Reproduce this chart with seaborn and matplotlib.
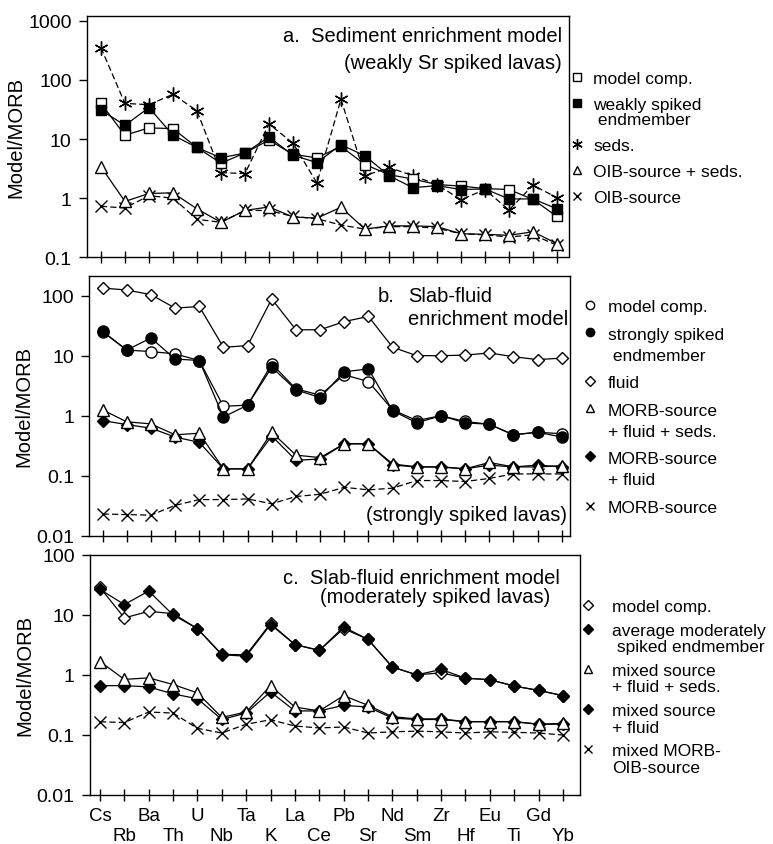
import numpy as np
import seaborn as sns
import matplotlib.pyplot as plt
from matplotlib.ticker import FixedLocator, FixedFormatter, NullLocator

sns.set_style("ticks")
plt.rcParams['font.family'] = ['Liberation Sans', 'DejaVu Sans']
plt.rcParams['text.color'] = 'black'
plt.rcParams['axes.labelcolor'] = 'black'
plt.rcParams['xtick.color'] = 'black'
plt.rcParams['ytick.color'] = 'black'

elements = ["Cs", "Rb", "Ba", "Th", "U", "Nb", "Ta", "K", "La", "Ce",
            "Pb", "Sr", "Nd", "Sm", "Zr", "Hf", "Eu", "Ti", "Gd", "Yb"]

# a. sediment enrichment model
a_model = [40, 11.6, 15.4, 15, 7.2, 3.9, 5.8, 9.6, 5.5, 4.8, 7.5, 3.7, 2.5, 2.1, 1.7, 1.6, 1.45, 1.4, 0.95, 0.49]
a_endm = [31, 17, 34, 11.6, 7.2, 4.8, 5.8, 10.8, 5.3, 4.0, 8.0, 5.2, 2.4, 1.5, 1.63, 1.4, 1.43, 0.97, 0.97, 0.66]
a_seds = [350, 40, 38, 57, 30, 2.7, 2.6, 18, 8.5, 1.8, 47, 2.4, 3.3, 2.4, 1.7, 0.94, 1.4, 0.63, 1.65, 1.02]
a_oibseds = [3.4, 0.88, 1.2, 1.23, 0.66, 0.39, 0.62, 0.71, 0.48, 0.46, 0.7, 0.30, 0.34, 0.34, 0.33, 0.25, 0.245, 0.235, 0.27, 0.17]
a_oib = [0.73, 0.68, 1.1, 1.0, 0.44, 0.39, 0.62, 0.62, 0.49, 0.45, 0.35, 0.30, 0.33, 0.33, 0.31, 0.25, 0.24, 0.22, 0.24, 0.16]

# b. slab-fluid model, strongly spiked
b_model = [25, 12.4, 11.7, 10.7, 8.3, 1.43, 1.5, 7.3, 2.8, 2.2, 4.8, 3.7, 1.25, 0.83, 1.0, 0.8, 0.72, 0.48, 0.53, 0.5]
b_endm = [25.5, 12.4, 19.7, 8.8, 8.3, 0.95, 1.5, 6.4, 2.7, 2.0, 5.4, 6.0, 1.21, 0.76, 1.0, 0.76, 0.72, 0.48, 0.53, 0.44]
b_fluid = [134, 124, 104, 62, 66, 13.8, 14.7, 88, 27, 27, 37, 45, 13.8, 10, 10, 10.2, 11.1, 9.6, 8.6, 9.1]
b_mfs = [1.25, 0.79, 0.73, 0.48, 0.51, 0.13, 0.13, 0.53, 0.22, 0.20, 0.34, 0.34, 0.157, 0.14, 0.14, 0.13, 0.166, 0.14, 0.14, 0.147]
b_mf = [0.83, 0.71, 0.62, 0.44, 0.36, 0.13, 0.13, 0.46, 0.18, 0.19, 0.34, 0.34, 0.15, 0.14, 0.14, 0.13, 0.15, 0.14, 0.15, 0.14]
b_morb = [0.023, 0.0225, 0.022, 0.032, 0.040, 0.040, 0.041, 0.034, 0.045, 0.049, 0.064, 0.058, 0.062, 0.083, 0.083, 0.080, 0.090, 0.107, 0.107, 0.107]

# c. slab-fluid model, moderately spiked
c_model = [28.7, 8.9, 11.5, 10.5, 5.9, 2.2, 2.16, 7.2, 3.2, 2.56, 5.9, 3.9, 1.35, 1.0, 1.08, 0.88, 0.83, 0.65, 0.55, 0.45]
c_endm = [26.6, 14.9, 25, 10, 5.9, 2.16, 2.05, 6.9, 3.2, 2.56, 6.3, 3.9, 1.35, 1.0, 1.23, 0.88, 0.83, 0.65, 0.55, 0.45]
c_mfs = [1.67, 0.84, 0.89, 0.69, 0.50, 0.195, 0.24, 0.66, 0.29, 0.25, 0.45, 0.31, 0.2, 0.184, 0.184, 0.166, 0.166, 0.166, 0.15, 0.155]
c_mf = [0.66, 0.66, 0.63, 0.48, 0.40, 0.18, 0.23, 0.52, 0.25, 0.25, 0.31, 0.29, 0.19, 0.18, 0.18, 0.165, 0.165, 0.165, 0.15, 0.15]
c_mix = [0.165, 0.16, 0.24, 0.23, 0.128, 0.107, 0.15, 0.178, 0.14, 0.13, 0.135, 0.107, 0.112, 0.115, 0.112, 0.107, 0.112, 0.11, 0.107, 0.099]

yticks_a = [0.1, 1, 10, 100, 1000]
yticks_bc = [0.01, 0.1, 1, 10, 100]

W, H = 773, 845
fig = plt.figure(figsize=(W / 100, H / 100), dpi=100)


def make_ax(left, right, top, bottom):
    return fig.add_axes([left / W, 1 - bottom / H, (right - left) / W, (bottom - top) / H])


x = np.arange(len(elements))
ASTER = (6, 2, 0)
LEGFS = 12.5


def series(ax, y, marker, fill, label, ms=7, dashed=False):
    sns.lineplot(x=x, y=y, ax=ax, color="black", lw=0.9, marker=marker,
                 markersize=ms, mfc=fill, mec="black", mew=1.0,
                 label=label, legend=False, sort=False)
    ln = ax.lines[-1]
    if dashed:
        ln.set_dashes((5, 2.5))


def style_ax(ax, xlim, ylim, yticks, xlabels=False):
    ax.set_yscale("log")
    ax.set_xlim(*xlim)
    ax.set_ylim(*ylim)
    ax.yaxis.set_major_locator(FixedLocator(yticks))
    ax.yaxis.set_major_formatter(FixedFormatter(["%g" % t for t in yticks]))
    ax.yaxis.set_minor_locator(NullLocator())
    ax.set_xticks(x)
    if xlabels:
        ax.set_xticklabels([e if i % 2 == 0 else "\n" + e for i, e in enumerate(elements)],
                           fontsize=13.5, linespacing=1.25)
    else:
        ax.set_xticklabels([])
    ax.tick_params(axis="x", direction="inout", length=9, width=1, pad=4)
    ax.tick_params(axis="y", direction="out", length=6, width=1, labelsize=14, pad=5)
    ax.set_ylabel("Model/MORB", fontsize=14.5, labelpad=2)
    for s in ax.spines.values():
        s.set_linewidth(1.0)
        s.set_color("black")


def legend(ax, order, xpx, ypx, pad, ls, sp):
    h, l = ax.get_legend_handles_labels()
    d = dict(zip(l, h))
    leg = ax.legend([d[k] for k in order], order, loc="upper left",
                    bbox_to_anchor=(xpx / W, 1 - ypx / H), bbox_transform=fig.transFigure,
                    frameon=False, fontsize=LEGFS, handlelength=0, handletextpad=pad,
                    borderpad=0, borderaxespad=0, labelspacing=sp, markerscale=0.75)
    for t in leg.get_texts():
        t.set_linespacing(ls)
    # put the marker next to the first line of a two-line label
    for hd, lab in zip(leg.legend_handles, order):
        if "\n" in lab:
            hd.set_ydata(np.asarray(hd.get_ydata(), float) + ls * LEGFS / 2)


# ---- panel a
ax1 = make_ax(87, 569, 16.7, 258.3)
series(ax1, a_oib, "x", "none", "OIB-source", ms=8, dashed=True)
series(ax1, a_oibseds, "^", "white", "OIB-source + seds.", ms=8)
series(ax1, a_seds, ASTER, "none", "seds.", ms=10, dashed=True)
series(ax1, a_model, "s", "white", "model comp.")
series(ax1, a_endm, "s", "black", "weakly spiked\n endmember")
style_ax(ax1, (-0.58, 19.5), (0.1, 1215), yticks_a)
ax1.text(0.985, 0.917, "a.  Sediment enrichment model", transform=ax1.transAxes,
         ha="right", va="center", fontsize=14.5)
ax1.text(0.985, 0.808, "(weakly Sr spiked lavas)", transform=ax1.transAxes,
         ha="right", va="center", fontsize=14.5)
legend(ax1, ["model comp.", "weakly spiked\n endmember", "seds.", "OIB-source + seds.", "OIB-source"],
       576.7, 72, 0.95, 1.0, 0.62)

# ---- panel b
ax2 = make_ax(89.3, 570, 276.7, 536.7)
series(ax2, b_morb, "x", "none", "MORB-source", ms=8, dashed=True)
series(ax2, b_mf, "D", "black", "MORB-source\n+ fluid", ms=6.5)
series(ax2, b_mfs, "^", "white", "MORB-source\n+ fluid + seds.", ms=8)
series(ax2, b_fluid, "D", "white", "fluid", ms=6.5)
series(ax2, b_model, "o", "white", "model comp.", ms=8)
series(ax2, b_endm, "o", "black", "strongly spiked\n endmember", ms=8)
style_ax(ax2, (-0.55, 19.34), (0.01, 215), yticks_bc)
ax2.text(0.60, 0.925, "b.", transform=ax2.transAxes, ha="left", va="center", fontsize=14.5)
ax2.text(0.663, 0.925, "Slab-fluid", transform=ax2.transAxes, ha="left", va="center", fontsize=14.5)
ax2.text(0.663, 0.837, "enrichment model", transform=ax2.transAxes, ha="left", va="center", fontsize=14.5)
ax2.text(0.993, 0.083, "(strongly spiked lavas)", transform=ax2.transAxes,
         ha="right", va="center", fontsize=14.5)
legend(ax2, ["model comp.", "strongly spiked\n endmember", "fluid", "MORB-source\n+ fluid + seds.",
             "MORB-source\n+ fluid", "MORB-source"], 590, 300, 1.02, 1.5, 0.72)

# ---- panel c
ax3 = make_ax(90, 580, 556, 795.7)
series(ax3, c_mix, "x", "none", "mixed MORB-\nOIB-source", ms=8, dashed=True)
series(ax3, c_mf, "D", "black", "mixed source\n+ fluid", ms=6.5)
series(ax3, c_mfs, "^", "white", "mixed source\n+ fluid + seds.", ms=8)
series(ax3, c_model, "D", "white", "model comp.", ms=6.5)
series(ax3, c_endm, "D", "black", "average moderately\n spiked endmember", ms=6.5)
style_ax(ax3, (-0.41, 19.7), (0.01, 100), yticks_bc, xlabels=True)
ax3.text(0.959, 0.908, "c.  Slab-fluid enrichment model", transform=ax3.transAxes,
         ha="right", va="center", fontsize=14.5)
ax3.text(0.939, 0.825, "(moderately spiked lavas)", transform=ax3.transAxes,
         ha="right", va="center", fontsize=14.5)
legend(ax3, ["model comp.", "average moderately\n spiked endmember", "mixed source\n+ fluid + seds.",
             "mixed source\n+ fluid", "mixed MORB-\nOIB-source"], 588, 600, 1.38, 1.12, 0.5)

fig.savefig("out.png", dpi=100)
